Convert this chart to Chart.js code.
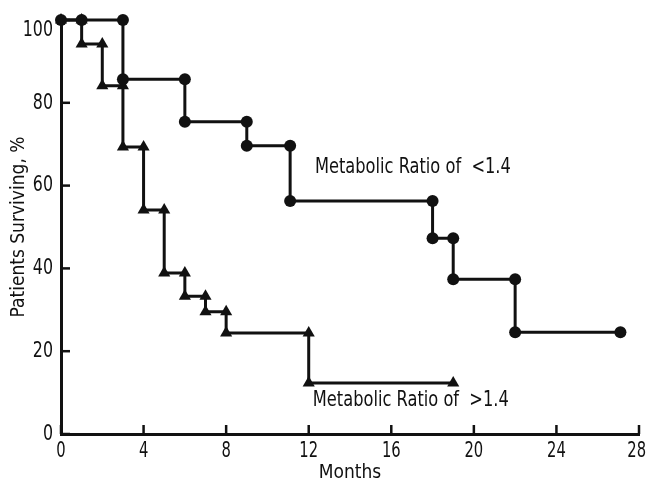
<!DOCTYPE html>
<html>
<head>
<meta charset="utf-8">
<script src="https://cdn.jsdelivr.net/npm/chart.js@4"></script>
<style>
  html, body { margin: 0; padding: 0; background: #fff; }
  #wrap { width: 647px; height: 485px; }
</style>
</head>
<body>
<div id="wrap"><canvas id="survivalChart"></canvas></div>
<script>
// Survival curves (months, % surviving)
const lowMonths  = [0, 1, 3, 3, 6, 6, 9, 9, 11.1, 11.1, 18, 18, 19, 19, 22, 22, 27.1];
const lowSurvive = [100, 100, 100, 85.7, 85.7, 75.4, 75.4, 69.6, 69.6, 56.3, 56.3, 47.3, 47.3, 37.4, 37.4, 24.6, 24.6];

const highMonths  = [0, 1, 1, 2, 2, 3, 3, 4, 4, 5, 5, 6, 6, 7, 7, 8, 8, 12, 12, 19];
const highSurvive = [100, 100, 94.2, 94.2, 84.1, 84.1, 69.3, 69.3, 54.1, 54.1, 38.9, 38.9, 33.3, 33.3, 29.5, 29.5, 24.4, 24.4, 12.3, 12.3];

const xTicks = [0, 4, 8, 12, 16, 20, 24, 28];
const yTicks = [0, 20, 40, 60, 80, 100];

const seriesLabels = ['Metabolic Ratio of  <1.4', 'Metabolic Ratio of  >1.4'];

const FONT = "'DejaVu Sans Condensed', 'Liberation Sans Narrow', sans-serif";
const INK = '#111';

function toPoints(xs, ys) {
  return xs.map((x, i) => ({ x: x, y: ys[i] }));
}

// squeezed text, closer to the condensed face of the original
function narrowText(ctx, text, px, py, squeeze) {
  ctx.save();
  ctx.translate(px, py);
  ctx.scale(squeeze, 1);
  ctx.fillText(text, 0, 0);
  ctx.restore();
}

// Tick marks pointing into the plot, tick labels and the curve labels
const innerTicks = {
  id: 'innerTicks',
  afterDraw(chart) {
    const { ctx, chartArea, scales: { x, y } } = chart;
    ctx.save();
    ctx.strokeStyle = INK;
    ctx.fillStyle = INK;
    ctx.lineWidth = 2.5;
    ctx.textBaseline = 'middle';

    ctx.font = '21px ' + FONT;
    x.ticks.forEach((t, i) => {
      const px = x.getPixelForTick(i);
      ctx.beginPath();
      ctx.moveTo(px, chartArea.bottom);
      ctx.lineTo(px, chartArea.bottom - 9);
      ctx.stroke();
      // keep the last label inside the canvas, as in the original
      const half = ctx.measureText(String(t.value)).width * 0.78 / 2;
      const lx = Math.min(px, chart.width - half - 1);
      ctx.textAlign = 'center';
      narrowText(ctx, String(t.value), lx, chartArea.bottom + 18, 0.78);
    });

    ctx.font = '22px ' + FONT;
    y.ticks.forEach((t, i) => {
      const py = y.getPixelForTick(i);
      ctx.beginPath();
      ctx.moveTo(chartArea.left, py);
      ctx.lineTo(chartArea.left + 9, py);
      ctx.stroke();
      // the top label sits a little below the axis end
      const ly = t.value === y.max ? py + 10 : py;
      ctx.textAlign = 'right';
      narrowText(ctx, String(t.value), chartArea.left - 8, ly, 0.8);
    });

    ctx.font = '21px ' + FONT;
    ctx.textAlign = 'left';
    narrowText(ctx, seriesLabels[0], x.getPixelForValue(12.3), y.getPixelForValue(64.3), 0.86);
    narrowText(ctx, seriesLabels[1], x.getPixelForValue(12.2), y.getPixelForValue(8.2), 0.86);
    ctx.restore();
  }
};

const ctx = document.getElementById('survivalChart').getContext('2d');
const survivalChart = new Chart(ctx, {
  type: 'line',
  data: {
    datasets: [{
      label: seriesLabels[0],
      data: toPoints(lowMonths, lowSurvive),
      borderColor: INK,
      backgroundColor: INK,
      borderWidth: 3,
      pointStyle: 'circle',
      pointRadius: 6,
      pointBackgroundColor: INK,
      pointBorderWidth: 0,
      fill: false,
      tension: 0,
      clip: false
    }, {
      label: seriesLabels[1],
      data: toPoints(highMonths, highSurvive),
      borderColor: INK,
      backgroundColor: INK,
      borderWidth: 3,
      pointStyle: 'triangle',
      pointRadius: 7,
      pointBackgroundColor: INK,
      pointBorderWidth: 0,
      fill: false,
      tension: 0,
      clip: false
    }]
  },
  options: {
    responsive: true,
    maintainAspectRatio: false,
    animation: false,
    events: [],
    layout: { padding: { left: 0, right: 8, top: 20, bottom: 0 } },
    plugins: {
      legend: { display: false },
      tooltip: { enabled: false }
    },
    scales: {
      x: {
        type: 'linear',
        min: 0,
        max: 28,
        afterBuildTicks: (scale) => { scale.ticks = xTicks.map(v => ({ value: v })); },
        afterFit: (scale) => {
          scale.height = 51;
          scale.paddingLeft = 0;
          scale.paddingRight = 0;
        },
        grid: { display: false, drawTicks: false },
        border: { display: true, color: INK, width: 3 },
        ticks: { display: false },
        title: {
          display: true,
          text: 'Months',
          color: INK,
          font: { family: FONT, size: 19 },
          padding: { top: 0, bottom: 1 }
        }
      },
      y: {
        type: 'linear',
        min: 0,
        max: 100,
        afterBuildTicks: (scale) => { scale.ticks = yTicks.map(v => ({ value: v })); },
        afterFit: (scale) => {
          scale.width = 61;
          scale.paddingTop = 0;
          scale.paddingBottom = 0;
        },
        grid: { display: false, drawTicks: false },
        border: { display: true, color: INK, width: 3 },
        ticks: { display: false },
        title: {
          display: true,
          text: 'Patients Surviving, %',
          color: INK,
          font: { family: FONT, size: 19 },
          padding: { top: 8, bottom: 0 }
        }
      }
    }
  },
  plugins: [innerTicks]
});
</script>
</body>
</html>
